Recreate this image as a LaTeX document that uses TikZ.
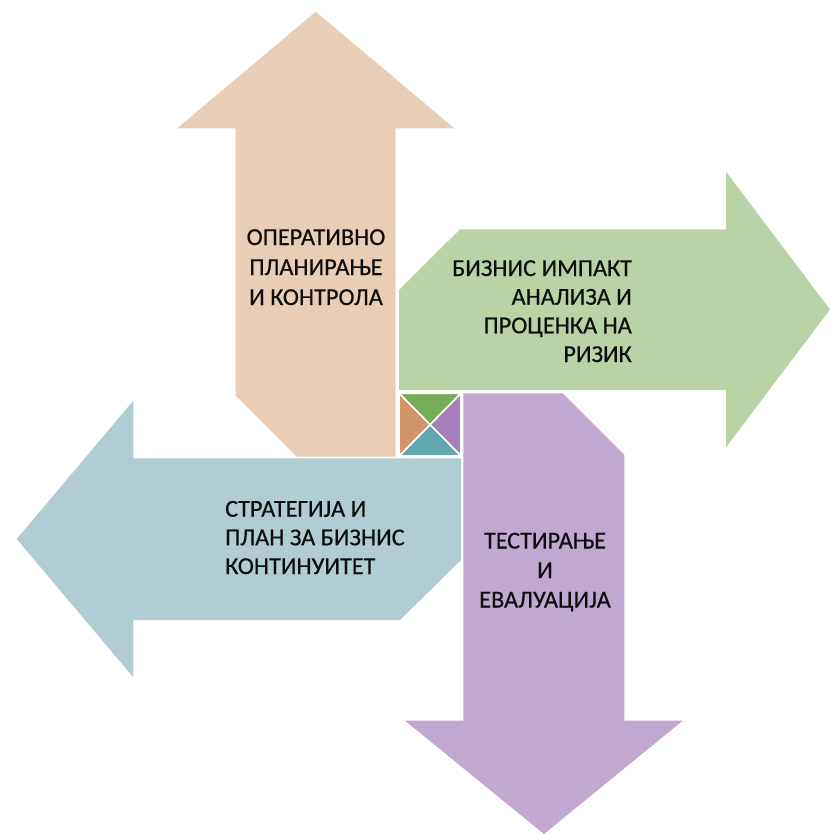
\documentclass[tikz,border=0pt]{standalone}
\usepackage{fontspec}
\setmainfont{Carlito}[FakeBold=0.45]
\definecolor{peach}{HTML}{E9CEB7}
\definecolor{leaf}{HTML}{B9D3A6}
\definecolor{sky}{HTML}{B1CDD3}
\definecolor{lilac}{HTML}{C1A8D1}
\definecolor{tgreen}{HTML}{77AC57}
\definecolor{tpurple}{HTML}{A47FBA}
\definecolor{tteal}{HTML}{62A7B0}
\definecolor{torange}{HTML}{D0966A}
\begin{document}
\begin{tikzpicture}[x=1pt,y=-1pt,
  lbl/.style={font=\fontsize{24.3}{29}\selectfont, text=black!95, inner sep=0pt, anchor=base},
  lblr/.style={lbl, anchor=base east},
  lbll/.style={lbl, anchor=base west},
  tri/.style={draw=white, line width=1.6pt, line join=miter}]
\useasboundingbox (0,0) rectangle (830,834);
% up arrow (peach)
\fill[peach] (315.7,11.7) -- (454.3,128.3) -- (395.7,128.3) -- (395.7,456.7) -- (296.7,456.7)
  -- (235.7,395.7) -- (235.7,128.3) -- (177.3,128.3) -- cycle;
% right arrow (green)
\fill[leaf] (830,309.5) -- (726,447.3) -- (726,390) -- (399,390) -- (399,290)
  -- (460,229.3) -- (726,229.3) -- (726,171.7) -- cycle;
% down arrow (purple)
\fill[lilac] (544,834) -- (682.7,720.7) -- (624.3,720.7) -- (624.3,455) -- (562.7,393.3)
  -- (463.3,393.3) -- (463.3,720.7) -- (405,720.7) -- cycle;
% left arrow (blue)
\fill[sky] (16.7,539) -- (133.3,400.7) -- (133.3,458.3) -- (461,458.3) -- (461,560)
  -- (400,620) -- (133.3,620) -- (133.3,677.3) -- cycle;
% centre square
\coordinate (c) at (430,424.7);
\coordinate (tl) at (399,393.3);
\coordinate (tr) at (461,393.3);
\coordinate (br) at (461,456);
\coordinate (bl) at (399,456);
\filldraw[tri, fill=tgreen] (tl) -- (tr) -- (c) -- cycle;
\filldraw[tri, fill=tpurple] (tr) -- (br) -- (c) -- cycle;
\filldraw[tri, fill=tteal] (br) -- (bl) -- (c) -- cycle;
\filldraw[tri, fill=torange] (bl) -- (tl) -- (c) -- cycle;
% texts
\node[lbl] (p1) at (316,245) {ОПЕРАТИВНО};
\node[lbl] (p2) at (316,275) {ПЛАНИРАЊЕ};
\node[lbl] (p3) at (316,305) {И КОНТРОЛА};
\node[lblr] (g1) at (632,276) {БИЗНИС ИМПАКТ};
\node[lblr] (g2) at (632,304.7) {АНАЛИЗА И};
\node[lblr] (g3) at (632,333.3) {ПРОЦЕНКА НА};
\node[lblr] (g4) at (632,362) {РИЗИК};
\node[lbll] (b1) at (225,516.7) {СТРАТЕГИЈА И};
\node[lbll] (b2) at (225,545.3) {ПЛАН ЗА БИЗНИС};
\node[lbll] (b3) at (225,574) {КОНТИНУИТЕТ};
\node[lbl] (v1) at (545,548.5) {ТЕСТИРАЊЕ};
\node[lbl] (v2) at (545,578) {И};
\node[lbl] (v3) at (545,607.5) {ЕВАЛУАЦИЈА};
\end{tikzpicture}
\end{document}
